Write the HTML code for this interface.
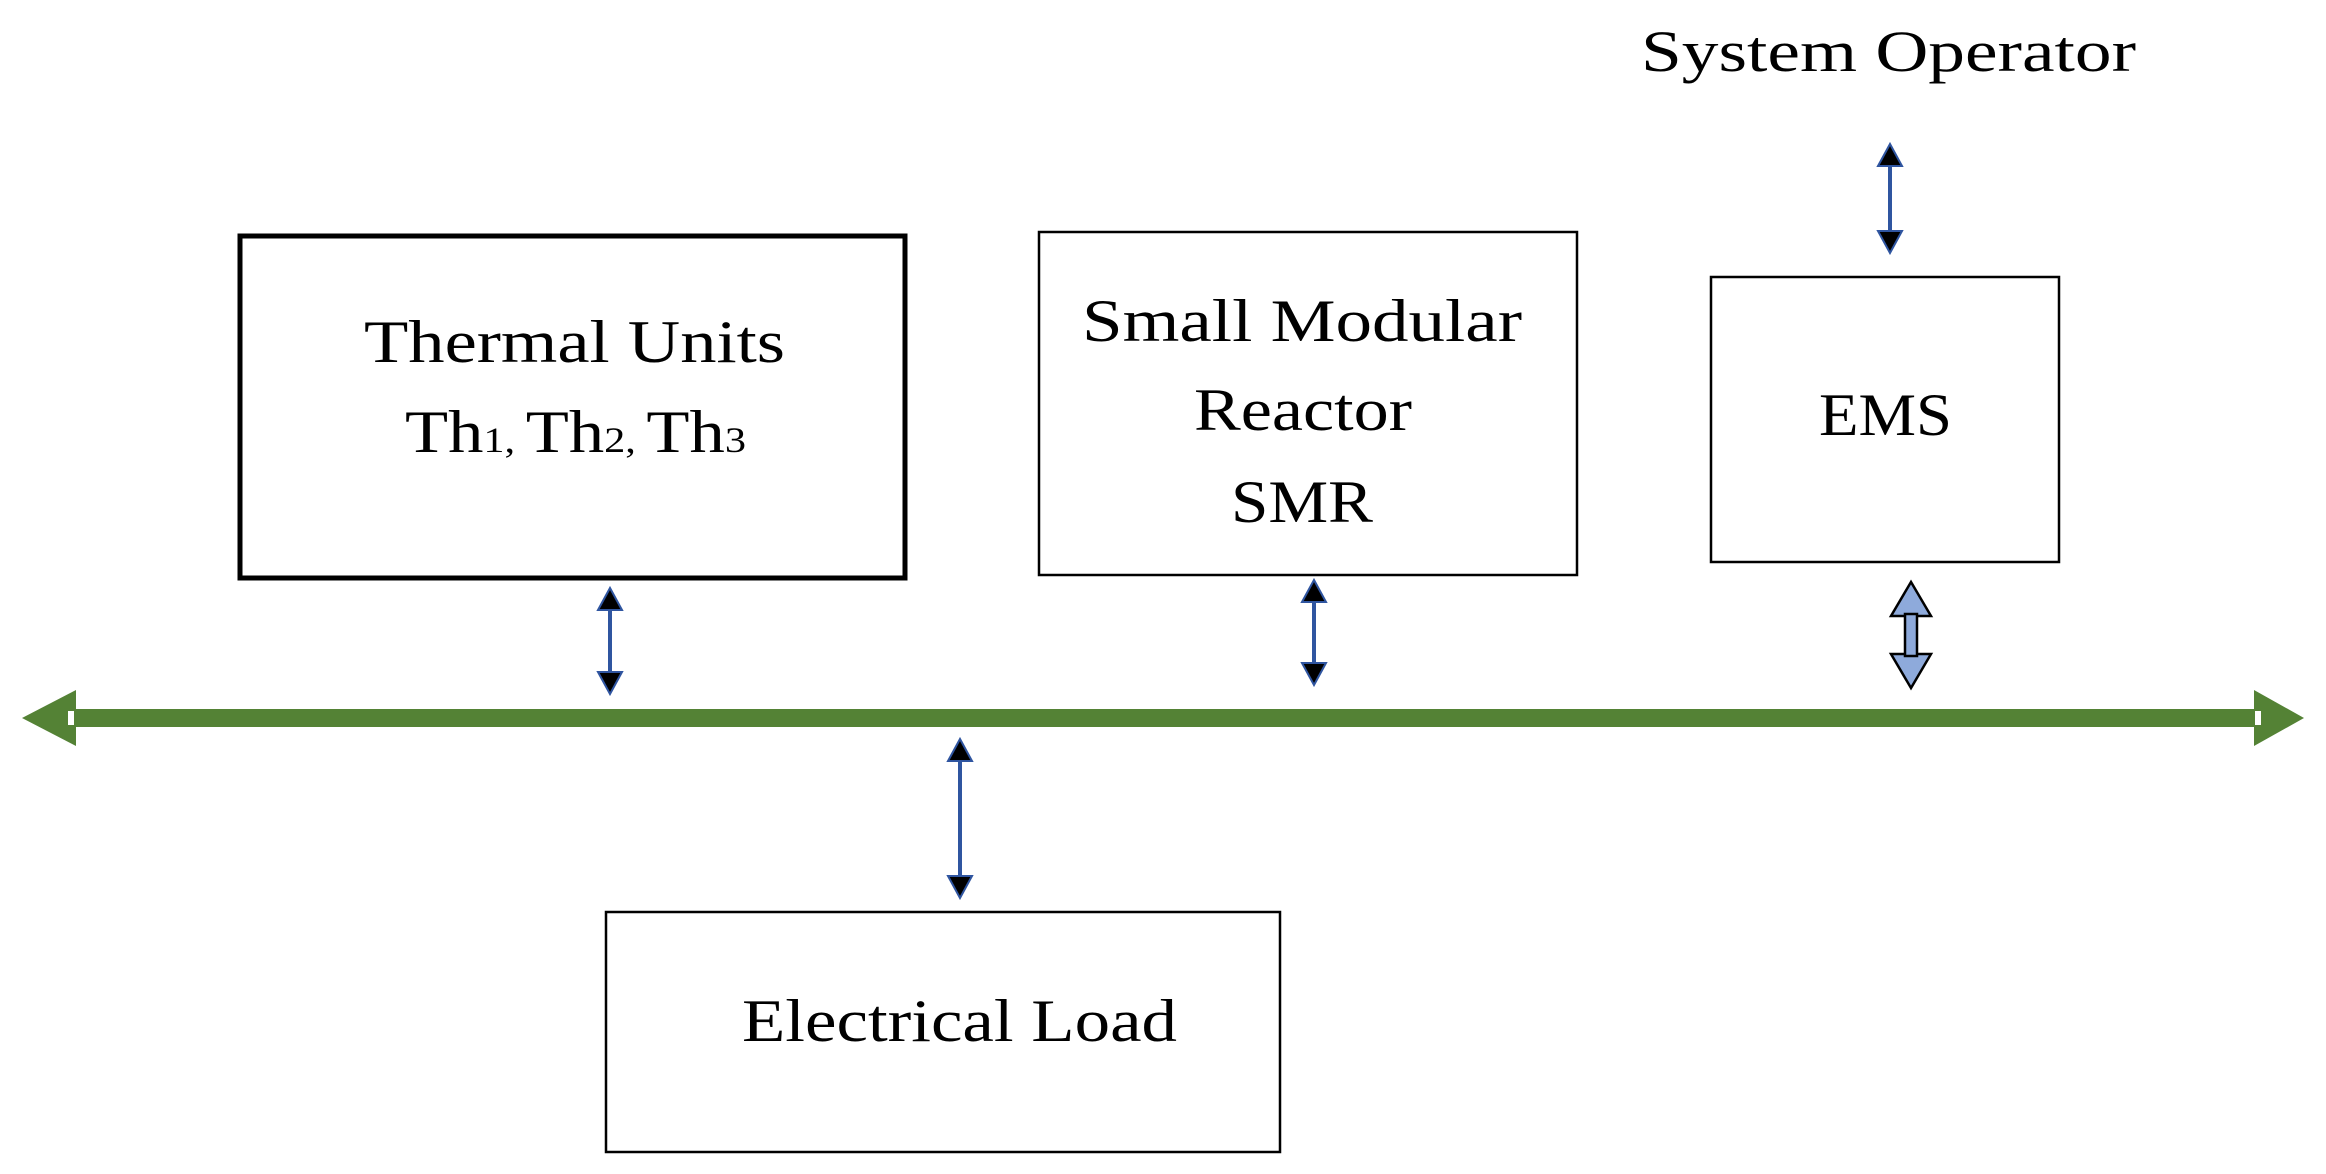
<!DOCTYPE html>
<html><head><meta charset="utf-8"><style>html,body{margin:0;padding:0;background:#fff}svg{display:block}</style></head>
<body>
<svg width="2326" height="1174" viewBox="0 0 2326 1174" xmlns="http://www.w3.org/2000/svg" font-family="'Liberation Serif', serif" fill="#000">
<!-- boxes -->
<rect x="240" y="236" width="665" height="342" fill="none" stroke="#000" stroke-width="5"/>
<rect x="1039" y="232" width="538" height="343" fill="none" stroke="#000" stroke-width="2.5"/>
<rect x="1711" y="277" width="348" height="285" fill="none" stroke="#000" stroke-width="2.5"/>
<rect x="606" y="912" width="674" height="240" fill="none" stroke="#000" stroke-width="2.5"/>
<!-- text -->
<text x="364" y="362" font-size="60" textLength="421" lengthAdjust="spacingAndGlyphs">Thermal Units</text>
<text x="405" y="452" font-size="60" textLength="341" lengthAdjust="spacingAndGlyphs">Th<tspan font-size="36">1, </tspan>Th<tspan font-size="36">2, </tspan>Th<tspan font-size="36">3</tspan></text>
<text x="1082" y="341" font-size="60" textLength="440" lengthAdjust="spacingAndGlyphs">Small Modular</text>
<text x="1194" y="430" font-size="60" textLength="218" lengthAdjust="spacingAndGlyphs">Reactor</text>
<text x="1231" y="522" font-size="60" textLength="142" lengthAdjust="spacingAndGlyphs">SMR</text>
<text x="1819" y="435" font-size="60" textLength="133" lengthAdjust="spacingAndGlyphs">EMS</text>
<text x="1641" y="71" font-size="58" textLength="495" lengthAdjust="spacingAndGlyphs">System Operator</text>
<text x="742" y="1041" font-size="60" textLength="435" lengthAdjust="spacingAndGlyphs">Electrical Load</text>
<!-- bus -->
<rect x="70" y="709" width="2190" height="18" fill="#548235"/>
<polygon points="22,718 76,690 76,746" fill="#548235"/>
<polygon points="2304,718 2254,690 2254,746" fill="#548235"/>
<rect x="68" y="711" width="6" height="14" fill="#fff"/>
<rect x="2255" y="711" width="6" height="14" fill="#fff"/>
<!-- thin double arrows -->
<g>
<line x1="610" y1="600" x2="610" y2="682" stroke="#2f55a0" stroke-width="4"/>
<polygon points="610,588 598,610 622,610" fill="#000" stroke="#2f55a0" stroke-width="2"/>
<polygon points="610,694 598,672 622,672" fill="#000" stroke="#2f55a0" stroke-width="2"/>
<line x1="1314" y1="592" x2="1314" y2="673" stroke="#2f55a0" stroke-width="4"/>
<polygon points="1314,580 1302,602 1326,602" fill="#000" stroke="#2f55a0" stroke-width="2"/>
<polygon points="1314,685 1302,663 1326,663" fill="#000" stroke="#2f55a0" stroke-width="2"/>
<line x1="960" y1="751" x2="960" y2="886" stroke="#2f55a0" stroke-width="4"/>
<polygon points="960,739 948,761 972,761" fill="#000" stroke="#2f55a0" stroke-width="2"/>
<polygon points="960,898 948,876 972,876" fill="#000" stroke="#2f55a0" stroke-width="2"/>
<line x1="1890" y1="156" x2="1890" y2="241" stroke="#2f55a0" stroke-width="4"/>
<polygon points="1890,144 1878,166 1902,166" fill="#000" stroke="#2f55a0" stroke-width="2"/>
<polygon points="1890,253 1878,231 1902,231" fill="#000" stroke="#2f55a0" stroke-width="2"/>
</g>
<!-- EMS fat arrow -->
<g fill="#8eaadb" stroke="#000" stroke-width="2.5">
<polygon points="1911,582 1891,616 1931,616"/>
<polygon points="1911,688 1891,654 1931,654"/>
<rect x="1905" y="614" width="12" height="42"/>
</g>
</svg>
</body></html>
